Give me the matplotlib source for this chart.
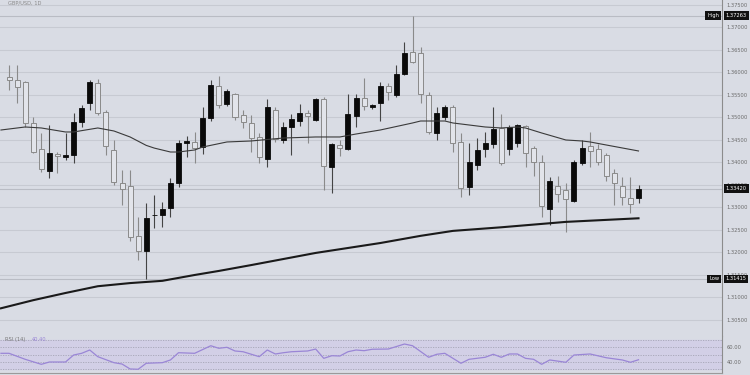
import matplotlib
matplotlib.use("Agg")
import matplotlib.pyplot as plt
import numpy as np

# daily candles (black = up, hollow = down)
opens = [1.35900, 1.35833, 1.35789, 1.34878, 1.34300, 1.33811, 1.34189, 1.34133, 1.34167, 1.34900,
         1.35322, 1.35767, 1.35122, 1.34278, 1.33544, 1.33478, 1.32367, 1.32033, 1.32822, 1.32833,
         1.32989, 1.33544, 1.34433, 1.34456, 1.34344, 1.34989, 1.35700, 1.35300, 1.35522, 1.35056,
         1.34878, 1.34567, 1.34078, 1.35167, 1.34500, 1.34789, 1.34922, 1.35100, 1.34944, 1.35411,
         1.33900, 1.34389, 1.34300, 1.35033, 1.35433, 1.35244, 1.35322, 1.35700, 1.35500, 1.35967,
         1.36456, 1.36433, 1.35500, 1.34656, 1.35011, 1.35233, 1.34456, 1.33456, 1.33944, 1.34300,
         1.34411, 1.34767, 1.34300, 1.34433, 1.34811, 1.34322, 1.34011, 1.32967, 1.33478, 1.33389,
         1.33144, 1.33989, 1.34367, 1.34300, 1.34167, 1.33767, 1.33478, 1.33211, 1.33211]
highs = [1.36167, 1.36167, 1.35811, 1.35011, 1.34656, 1.34833, 1.34233, 1.34656, 1.35100, 1.35278,
         1.35833, 1.35856, 1.35167, 1.34500, 1.33833, 1.33833, 1.32789, 1.33100, 1.33278, 1.33122,
         1.33656, 1.34500, 1.34589, 1.34678, 1.35233, 1.35833, 1.35922, 1.35633, 1.35544, 1.35167,
         1.35056, 1.34656, 1.35411, 1.35233, 1.34900, 1.35078, 1.35300, 1.35167, 1.35433, 1.35456,
         1.34433, 1.34500, 1.35522, 1.35522, 1.35878, 1.35300, 1.35789, 1.35767, 1.36167, 1.36678,
         1.37263, 1.36567, 1.35567, 1.35233, 1.35278, 1.35278, 1.34656, 1.34433, 1.34544, 1.34678,
         1.35233, 1.35078, 1.34833, 1.34856, 1.34833, 1.34367, 1.34167, 1.33678, 1.33700, 1.33544,
         1.34056, 1.34500, 1.34678, 1.34411, 1.34211, 1.33856, 1.33678, 1.33678, 1.33500]
lows = [1.35611, 1.35322, 1.34789, 1.34211, 1.33789, 1.33656, 1.33767, 1.34056, 1.33989, 1.34789,
        1.35167, 1.35056, 1.34167, 1.33500, 1.33056, 1.32256, 1.31833, 1.31415, 1.32544, 1.32567,
        1.32789, 1.33456, 1.34122, 1.33989, 1.34189, 1.34922, 1.35211, 1.35256, 1.34944, 1.34767,
        1.34233, 1.33989, 1.33900, 1.34456, 1.34433, 1.34167, 1.34811, 1.34433, 1.34922, 1.33389,
        1.33322, 1.34144, 1.34278, 1.34789, 1.35167, 1.35189, 1.34922, 1.35389, 1.35456, 1.35944,
        1.36211, 1.35322, 1.34633, 1.34500, 1.34944, 1.34233, 1.33233, 1.33278, 1.33833, 1.34122,
        1.34322, 1.33944, 1.34167, 1.34344, 1.33900, 1.33700, 1.32789, 1.32611, 1.33122, 1.32456,
        1.33122, 1.33944, 1.33900, 1.33944, 1.33589, 1.33056, 1.33056, 1.32878, 1.33100]
closes = [1.35833, 1.35678, 1.34878, 1.34233, 1.33856, 1.34211, 1.34144, 1.34156, 1.34900, 1.35211,
          1.35789, 1.35100, 1.34367, 1.33567, 1.33411, 1.32344, 1.32033, 1.32767, 1.32844, 1.32967,
          1.33544, 1.34433, 1.34478, 1.34322, 1.34989, 1.35722, 1.35278, 1.35589, 1.35011, 1.34900,
          1.34544, 1.34122, 1.35233, 1.34522, 1.34789, 1.34967, 1.35100, 1.35033, 1.35411, 1.33922,
          1.34411, 1.34322, 1.35078, 1.35433, 1.35256, 1.35267, 1.35700, 1.35567, 1.35967, 1.36433,
          1.36233, 1.35522, 1.34678, 1.35100, 1.35233, 1.34433, 1.33433, 1.34011, 1.34278, 1.34433,
          1.34744, 1.33989, 1.34789, 1.34833, 1.34211, 1.34011, 1.33033, 1.33589, 1.33300, 1.33189,
          1.34011, 1.34322, 1.34256, 1.34011, 1.33700, 1.33544, 1.33233, 1.33078, 1.33420]

# moving averages, sampled at candle indices
fast_ma_idx = [-1, 2, 4, 7, 8, 11, 13, 15, 17, 18, 20, 21, 23, 24, 27, 30, 34, 38, 41, 43,
               46, 50, 51, 54, 55, 59, 61, 63, 64, 66, 69, 71, 72, 74, 78]
fast_ma = [1.34722, 1.34789, 1.34767, 1.34678, 1.34678, 1.34767, 1.34700, 1.34567, 1.34380, 1.34320,
           1.34233, 1.34233, 1.34278, 1.34344, 1.34456, 1.34478, 1.34544, 1.34567, 1.34567, 1.34633,
           1.34722, 1.34878, 1.34922, 1.34922, 1.34878, 1.34789, 1.34767, 1.34789, 1.34767, 1.34656,
           1.34500, 1.34478, 1.34456, 1.34389, 1.34256]
slow_ma_idx = [-1, 3, 7, 11, 15, 19, 23, 26, 30, 38, 46, 51, 55, 61, 69, 78]
slow_ma = [1.3076, 1.3094, 1.3110, 1.3125, 1.3132, 1.3137, 1.3150, 1.3159, 1.3172, 1.3199,
           1.3221, 1.3237, 1.3248, 1.3256, 1.3268, 1.3276]

# RSI(14)
rsi_idx = [-1, 0, 2, 4, 5, 7, 8, 9, 10, 11, 13, 14, 15, 16, 17, 19, 20, 21, 23, 25,
           26, 27, 28, 29, 31, 32, 33, 34, 35, 37, 38, 39, 40, 41, 42, 43, 44, 45, 47, 49,
           50, 52, 53, 54, 56, 57, 59, 60, 61, 62, 63, 64, 65, 66, 67, 69, 70, 72, 74, 76,
           77, 78]
rsi = [51.6, 51.6, 43.6, 36.9, 40.0, 40.0, 49.3, 51.6, 56.0, 47.1, 39.1, 37.3, 30.7, 30.3, 38.3,
       39.1, 42.7, 52.4, 51.6, 61.7, 58.3, 59.6, 54.7, 53.7, 47.1, 56.0, 50.7, 52.4, 53.7, 54.7,
       57.3, 44.9, 48.4, 48.0, 53.7, 56.0, 55.1, 57.0, 57.3, 64.0, 61.7, 46.3, 50.3, 51.6, 38.3,
       43.6, 46.3, 50.3, 46.3, 50.7, 50.7, 44.9, 43.6, 36.9, 42.7, 39.6, 49.3, 50.7, 45.7, 42.7,
       39.6, 43.0]

price_ticks = np.arange(1.305, 1.3751, 0.005)
period_high = 1.37263
period_low = 1.31415
last_price = 1.33420
rsi_last = "40.40"

bg = '#d9dce4'
fs = 3.7
fig = plt.figure(figsize=(7.5, 3.75), dpi=100, facecolor=bg)
ax = fig.add_axes([0.0, 0.104, 0.9627, 0.896], facecolor=bg)
rax = fig.add_axes([0.0, 0.0053, 0.9627, 0.0987], facecolor=bg, sharex=ax)

x = np.arange(len(opens))
o = np.array(opens)
c = np.array(closes)
up = c >= o

# wicks
ax.vlines(x[up], np.array(lows)[up], np.array(highs)[up], color='#444444', lw=0.8, zorder=2)
ax.vlines(x[~up], np.array(lows)[~up], np.array(highs)[~up], color='#8a8a8a', lw=0.8, zorder=2)

# bodies
body_lo = np.minimum(o, c)
body_h = np.maximum(np.abs(c - o), 0.00004)
ax.bar(x[up], body_h[up], bottom=body_lo[up], width=0.62, color='#0a0a0a',
       edgecolor='#0a0a0a', lw=0.6, zorder=3)
ax.bar(x[~up], body_h[~up], bottom=body_lo[~up], width=0.62, color='#e2e4ea',
       edgecolor='#8a8a8a', lw=0.7, zorder=3)

ax.plot(fast_ma_idx, fast_ma, color='#3a3a3a', lw=0.8, zorder=4)
ax.plot(slow_ma_idx, slow_ma, color='#1a1a1a', lw=1.5, zorder=4)

# high / low / last markers
for lvl in (period_high, period_low, last_price):
    ax.axhline(lvl, color='#b9bcc4', lw=0.8, zorder=1)

ax.set_xlim(-1.12, 88.35)
ax.set_ylim(1.30144, 1.37611)

ax.set_yticks(price_ticks)
ax.set_yticklabels(['%.5f' % t for t in price_ticks])
ax.yaxis.tick_right()
ax.tick_params(axis='y', length=0, pad=3.5, labelsize=fs, labelcolor='#6a6a6a')
ax.tick_params(axis='x', length=0, labelbottom=False)
ax.grid(axis='y', color='#c7cad2', lw=0.8, zorder=0)
for s in ('top', 'left', 'bottom'):
    ax.spines[s].set_visible(False)
ax.spines['right'].set_color('#8c8c8c')
ax.spines['right'].set_linewidth(0.8)

tr = ax.get_yaxis_transform()
box = dict(boxstyle='square,pad=0.35', fc='#111111', ec='none')
for lvl, tag in ((period_high, 'High'), (period_low, 'Low'), (last_price, None)):
    ax.text(1.005, lvl, '%.5f' % lvl, transform=tr, ha='left', va='center',
            fontsize=fs, color='white', bbox=box, clip_on=False, zorder=10)
    if tag:
        ax.text(0.996, lvl, tag, transform=tr, ha='right', va='center',
                fontsize=fs, color='white', bbox=box, clip_on=False, zorder=10)

fig.text(0.01, 0.999, 'GBP/USD, 1D', fontsize=fs, color='#8a8a8a', va='top')

# RSI panel
rax.axhspan(30, 70, color='#d2cfe6', zorder=0)
for lvl in (30, 40, 50, 60, 70):
    rax.axhline(lvl, color='#a5a5b5', lw=0.6, ls=(0, (1.5, 1.5)), zorder=1)
rax.plot(rsi_idx, rsi, color='#9a86d6', lw=0.9, zorder=3)
rax.set_ylim(25.3, 74.7)
rax.set_yticks([40, 60])
rax.set_yticklabels(['40.00', '60.00'])
rax.yaxis.tick_right()
rax.tick_params(axis='y', length=0, pad=3.5, labelsize=fs, labelcolor='#6a6a6a')
rax.tick_params(axis='x', length=0, labelbottom=False)
for s in ('top', 'left'):
    rax.spines[s].set_visible(False)
rax.spines['right'].set_color('#8c8c8c')
rax.spines['right'].set_linewidth(0.8)
rax.spines['bottom'].set_color('#9a9a9a')
rax.spines['bottom'].set_linewidth(0.8)

rax.text(0.007, 0.9, 'RSI (14)', transform=rax.transAxes, fontsize=fs, color='#777777', va='center')
rax.text(0.044, 0.9, rsi_last, transform=rax.transAxes, fontsize=fs, color='#9a86d6', va='center')

fig.savefig('out.png', dpi=100, facecolor=bg)
